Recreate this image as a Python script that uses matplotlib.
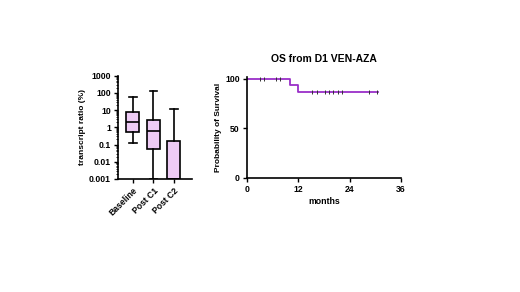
import matplotlib
matplotlib.use("Agg")
import matplotlib.pyplot as plt
import matplotlib.ticker as mticker

plt.rcParams['font.family'] = ['Liberation Sans', 'DejaVu Sans']
plt.rcParams['font.weight'] = 'bold'

# box data (log scale, % transcript ratio)
groups = ['Baseline', 'Post C1', 'Post C2']
wlo = [0.13, 0.001, 0.001]
q1 = [0.5, 0.055, 0.001]
med = [2.0, 0.6, 0.001]
q3 = [8.0, 2.7, 0.17]
whi = [55, 120, 12]

# survival data
step_t = [0, 10, 12, 30.6]
step_s = [100, 93.3, 86.7, 86.7]
cens_t = [3, 4, 6.8, 7.8, 15.3, 16.3, 18.3, 19.2, 20.2, 21.2, 22.2, 28.4, 30.3]

fig = plt.figure(figsize=(5.2, 2.92), dpi=100)

# left: box plot
ax1 = fig.add_axes([0.2269, 0.387, 0.1423, 0.354])
stats = []
for i in range(len(groups)):
    stats.append(dict(label=groups[i], whislo=wlo[i], q1=q1[i], med=med[i],
                      q3=q3[i], whishi=whi[i], fliers=[]))
ax1.bxp(stats, positions=[1, 2, 3], widths=0.63, patch_artist=True,
        boxprops=dict(facecolor='#eecbf5', edgecolor='black', linewidth=1.2),
        medianprops=dict(color='black', linewidth=1.2),
        whiskerprops=dict(color='black', linewidth=1.2),
        capprops=dict(color='black', linewidth=1.2), capwidths=0.35)
ax1.set_yscale('log')
ax1.set_ylim(0.001, 1000)
ax1.set_xlim(0.27, 3.88)
ax1.set_yticks([0.001, 0.01, 0.1, 1, 10, 100, 1000])
ax1.set_yticklabels(['0.001', '0.01', '0.1', '1', '10', '100', '1000'])
ax1.yaxis.set_minor_locator(mticker.LogLocator(base=10, subs=range(2, 10), numticks=20))
ax1.yaxis.set_minor_formatter(mticker.NullFormatter())
ax1.set_xticks([1, 2, 3])
ax1.set_xticklabels(groups, rotation=45, ha='right', rotation_mode='anchor')
ax1.tick_params(labelsize=6.2, width=1, length=3, pad=2)
ax1.tick_params(which='minor', length=1.5, width=0.6)
ax1.set_ylabel('transcript ratio (%)', fontsize=6, fontweight='bold', labelpad=2)
for s in ['top', 'right']:
    ax1.spines[s].set_visible(False)
for s in ['left', 'bottom']:
    ax1.spines[s].set_linewidth(1.2)

# right: survival curve
ax2 = fig.add_axes([0.4744, 0.391, 0.297, 0.346])
ax2.step(step_t, step_s, where='post', color='#9a2fc8', linewidth=1.3)
cens_s = []
for t in cens_t:
    s = step_s[0]
    for j in range(len(step_t)):
        if t >= step_t[j]:
            s = step_s[j]
    cens_s.append(s)
ax2.plot(cens_t, cens_s, linestyle='none', marker='|', color='#333333',
         markersize=2.5, markeredgewidth=0.7)
ax2.set_xlim(0, 36)
ax2.set_ylim(0, 102)
ax2.set_xticks([0, 12, 24, 36])
ax2.set_yticks([0, 50, 100])
ax2.tick_params(labelsize=6.2, width=1, length=3, pad=2)
ax2.set_xlabel('months', fontsize=6.3, fontweight='bold', labelpad=2)
ax2.set_ylabel('Probability of Survival', fontsize=6, fontweight='bold', labelpad=2)
ax2.set_title('OS from D1 VEN-AZA', fontsize=7.5, fontweight='bold', pad=11)
for s in ['top', 'right']:
    ax2.spines[s].set_visible(False)
for s in ['left', 'bottom']:
    ax2.spines[s].set_linewidth(1.2)

fig.savefig('out.png', dpi=100)
